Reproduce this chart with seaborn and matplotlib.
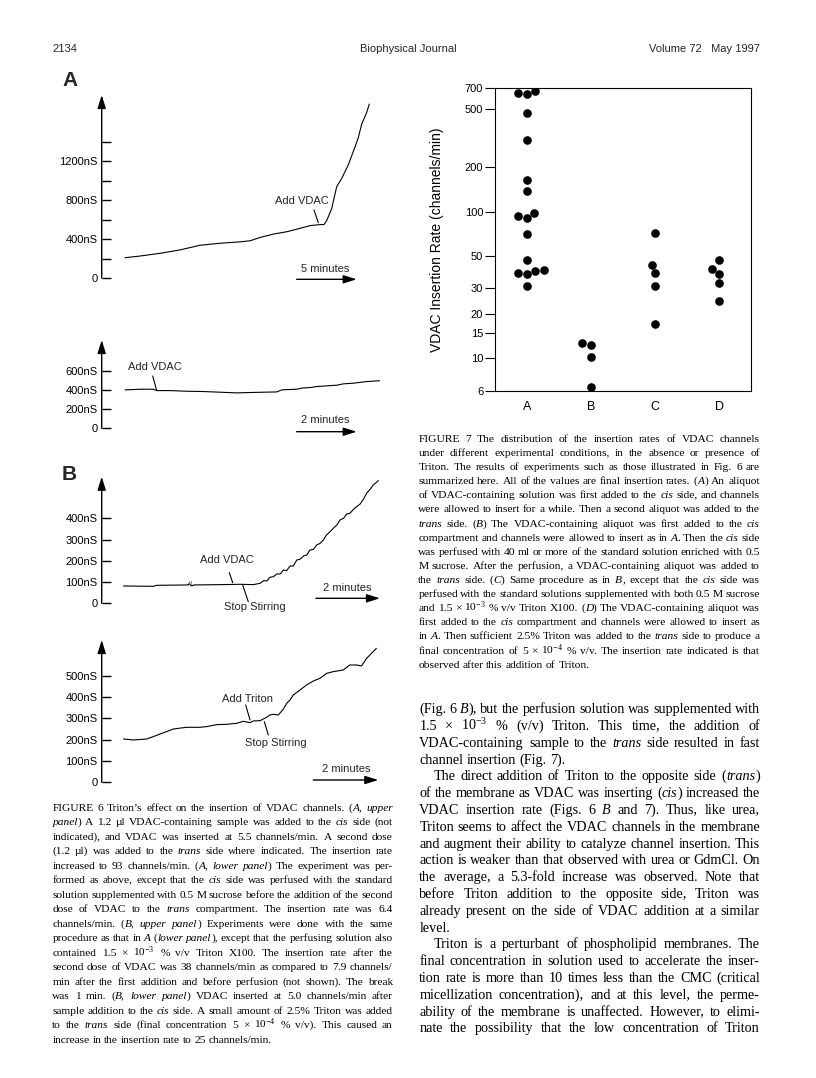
import math
import matplotlib
matplotlib.use('Agg')
import matplotlib.pyplot as plt
import seaborn as sns
import pandas as pd
from matplotlib.ticker import FixedLocator, FixedFormatter, NullLocator
from matplotlib.font_manager import findfont, get_font
from matplotlib.backends.backend_agg import get_hinting_flag

W, H = 816, 1078
SANS = 'Liberation Sans'
SERIF = 'Liberation Serif'

# ---------------- Figure 7 data (channels/min) ----------------
conditions = ['A', 'B', 'C', 'D']
rates_a = [660, 645, 630, 469, 309, 163, 138, 98, 93.5, 90, 70, 47, 40, 39.6, 38.3, 37.7, 31.3]
rates_b = [12.8, 12.3, 10.3, 6.4]
rates_c = [71.3, 43.2, 38, 31.3, 17.1]
rates_d = [47, 40.6, 37.3, 32.5, 24.8]
rate_ticks = [6, 10, 15, 20, 30, 50, 100, 200, 500, 700]

# ---------------- Figure 6 traces (minutes, nS) ----------------
a_upper_min = [0, 1.25, 2.92, 4.58, 6.25, 7.92, 9.58, 10.42, 11.25, 12.36, 13.47, 14.58,
               15.42, 16.25, 16.58, 16.81, 17.22, 17.64, 18.06, 18.61, 19.03, 19.44,
               19.72, 20.14, 20.36]
a_upper_ns = [209, 226, 254, 289, 337, 358, 372, 383, 417, 452, 476, 511,
              539, 550, 550, 591, 713, 939, 1026, 1165, 1304, 1443,
              1583, 1704, 1791]
a_upper_major = [0, 400, 800, 1200]
a_upper_minor = [200, 600, 1000, 1400]

a_lower_min = [0, 0.5, 0.94, 1.06, 1.5, 2.06, 2.61, 3.17, 3.72, 4.06, 4.61, 5.06,
               5.22, 5.39, 5.72, 5.94, 6.17, 6.39, 6.72, 7.06, 7.28, 7.61, 8.06, 8.56]
a_lower_ns = [400, 407, 407, 393, 393, 386, 383, 376, 369, 372, 376, 379,
              400, 403, 407, 421, 424, 435, 442, 449, 463, 470, 487, 497]
a_lower_major = [0, 200, 400, 600]

b_upper_min = [0, 0.94, 1.04, 1.98, 2.08, 2.14, 2.19, 3.02, 3.65, 4.06, 4.27, 4.38,
               4.48, 4.58, 4.69, 4.79, 4.90, 5.00, 5.10, 5.21, 5.31, 5.42, 5.52,
               5.63, 5.73, 5.83, 5.94, 6.04, 6.15, 6.25, 6.35, 6.46, 6.56, 6.67,
               6.77, 6.88, 6.98, 7.08, 7.19, 7.29, 7.40, 7.50, 7.60, 7.71, 7.81, 7.97]
b_upper_ns = [81.6, 80.0, 84.7, 86.3, 91.0, 81.6, 86.3, 87.9, 89.4, 87.9, 94.1, 106.7,
              105.1, 122.4, 125.5, 138.0, 138.0, 156.9, 153.7, 175.7, 175.7, 204.0, 207.1,
              222.8, 227.5, 251.1, 254.2, 274.6, 282.4, 298.1, 321.6, 337.3, 353.0, 368.7,
              392.2, 400.1, 420.5, 423.6, 442.4, 455.0, 467.5, 489.5, 517.8, 536.6, 557.0, 577.4]
b_upper_major = [0, 100, 200, 300, 400]

b_lower_min = [0, 0.31, 0.72, 0.92, 1.13, 1.33, 1.54, 1.95, 2.36, 2.56, 2.87, 3.18,
               3.49, 3.69, 3.90, 4.00, 4.21, 4.41, 4.51, 4.62, 4.77, 4.92, 5.03,
               5.13, 5.23, 5.44, 5.64, 5.85, 6.05, 6.26, 6.46, 6.77, 6.97, 7.18,
               7.33, 7.49, 7.64, 7.79]
b_lower_ns = [203.7, 199.0, 203.7, 214.7, 227.2, 238.2, 250.7, 258.6, 258.6, 261.7, 271.1, 272.7,
              277.4, 286.8, 280.5, 288.3, 289.9, 305.6, 316.5, 319.7, 316.5, 343.2, 371.4,
              387.0, 410.6, 434.1, 457.6, 476.4, 488.9, 512.4, 520.2, 528.1, 551.6, 551.6,
              546.9, 582.9, 606.4, 629.9]
b_lower_major = [0, 100, 200, 300, 400, 500]

# ---------------- text ----------------
fig7_caption = [
    "FIGURE 7  The distribution of the insertion rates of VDAC channels",
    "under different experimental conditions, in the absence or presence of",
    "Triton. The results of experiments such as those illustrated in Fig. 6 are",
    "summarized here. All of the values are final insertion rates. (_A_) An aliquot",
    "of VDAC-containing solution was first added to the _cis_ side, and channels",
    "were allowed to insert for a while. Then a second aliquot was added to the",
    "_trans_ side. (_B_) The VDAC-containing aliquot was first added to the _cis_",
    "compartment and channels were allowed to insert as in _A_. Then the _cis_ side",
    "was perfused with 40 ml or more of the standard solution enriched with 0.5",
    "M sucrose. After the perfusion, a VDAC-containing aliquot was added to",
    "the _trans_ side. (_C_) Same procedure as in _B_, except that the _cis_ side was",
    "perfused with the standard solutions supplemented with both 0.5 M sucrose",
    "and 1.5 \u00d7 10$^{-3}$ % v/v Triton X100. (_D_) The VDAC-containing aliquot was",
    "first added to the _cis_ compartment and channels were allowed to insert as",
    "in _A_. Then sufficient 2.5% Triton was added to the _trans_ side to produce a",
    "final concentration of 5 \u00d7 10$^{-4}$ % v/v. The insertion rate indicated is that",
    "observed after this addition of Triton.",
]

fig6_caption = [
    "FIGURE 6  Triton\u2019s effect on the insertion of VDAC channels. (_A, upper_",
    "_panel_) A 1.2 \u00b5l VDAC-containing sample was added to the _cis_ side (not",
    "indicated), and VDAC was inserted at 5.5 channels/min. A second dose",
    "(1.2 \u00b5l) was added to the _trans_ side where indicated. The insertion rate",
    "increased to 93 channels/min. (_A, lower panel_) The experiment was per-",
    "formed as above, except that the _cis_ side was perfused with the standard",
    "solution supplemented with 0.5 M sucrose before the addition of the second",
    "dose of VDAC to the _trans_ compartment. The insertion rate was 6.4",
    "channels/min. (_B, upper panel_) Experiments were done with the same",
    "procedure as that in _A_ (_lower panel_), except that the perfusing solution also",
    "contained 1.5 \u00d7 10$^{-3}$ % v/v Triton X100. The insertion rate after the",
    "second dose of VDAC was 38 channels/min as compared to 7.9 channels/",
    "min after the first addition and before perfusion (not shown). The break",
    "was 1 min. (_B, lower panel_) VDAC inserted at 5.0 channels/min after",
    "sample addition to the _cis_ side. A small amount of 2.5% Triton was added",
    "to the _trans_ side (final concentration 5 \u00d7 10$^{-4}$ % v/v). This caused an",
    "increase in the insertion rate to 25 channels/min.",
]

body_text = [
    "(Fig. 6 _B_), but the perfusion solution was supplemented with",
    "1.5 \u00d7 10$^{-3}$ % (v/v) Triton. This time, the addition of",
    "VDAC-containing sample to the _trans_ side resulted in fast",
    "channel insertion (Fig. 7).",
    "The direct addition of Triton to the opposite side (_trans_)",
    "of the membrane as VDAC was inserting (_cis_) increased the",
    "VDAC insertion rate (Figs. 6 _B_ and 7). Thus, like urea,",
    "Triton seems to affect the VDAC channels in the membrane",
    "and augment their ability to catalyze channel insertion. This",
    "action is weaker than that observed with urea or GdmCl. On",
    "the average, a 5.3-fold increase was observed. Note that",
    "before Triton addition to the opposite side, Triton was",
    "already present on the side of VDAC addition at a similar",
    "level.",
    "Triton is a perturbant of phospholipid membranes. The",
    "final concentration in solution used to accelerate the inser-",
    "tion rate is more than 10 times less than the CMC (critical",
    "micellization concentration), and at this level, the perme-",
    "ability of the membrane is unaffected. However, to elimi-",
    "nate the possibility that the low concentration of Triton",
]

sns.set_theme(style='white')
plt.rcParams['font.family'] = [SANS, 'DejaVu Sans']
plt.rcParams['mathtext.fontset'] = 'custom'
plt.rcParams['mathtext.rm'] = SERIF
plt.rcParams['mathtext.it'] = SERIF + ':italic'

fig = plt.figure(figsize=(W / 100, H / 100), dpi=100)
fig.patch.set_facecolor('white')


def box(x0, y0, x1, y1):
    """page pixels (top-left origin) -> add_axes rect"""
    return [x0 / W, 1 - y1 / H, (x1 - x0) / W, (y1 - y0) / H]


page = fig.add_axes([0, 0, 1, 1], zorder=5)
page.set_xlim(0, W)
page.set_ylim(H, 0)
page.axis('off')

ARROW = dict(arrowstyle='-|>,head_length=0.8,head_width=0.25', color='black',
             lw=1.0, shrinkA=0, shrinkB=0, mutation_scale=10)


def arrow(x0, y0, x1, y1):
    page.annotate('', xy=(x1, y1), xytext=(x0, y0), arrowprops=ARROW)


def marker_line(x0, y0, x1, y1):
    page.plot([x0, x1], [y0, y1], color='black', lw=0.8)


def label(x, y, s, size=8):
    page.text(x, y, s, ha='center', va='center', fontsize=size, family=SANS)


# ---------------- header ----------------
page.text(52, 49, '2134', ha='left', va='center', fontsize=8)
page.text(408, 49, 'Biophysical Journal', ha='center', va='center', fontsize=8)
page.text(760, 49, 'Volume 72   May 1997', ha='right', va='center', fontsize=8)

# ---------------- Figure 6 panels ----------------
AXIS_X = 101.7


def trace_panel(t, g, top_px, zero_px, xlim, ytop, major, minor=()):
    ax = fig.add_axes(box(AXIS_X, top_px, 380, zero_px))
    ax.patch.set_alpha(0)
    sns.lineplot(x=t, y=g, ax=ax, color='black', linewidth=0.8, estimator=None)
    ax.set_xlim(*xlim)
    ax.set_ylim(0, ytop)
    for s in ax.spines.values():
        s.set_visible(False)
    ax.set_xticks([])
    ax.set_xlabel('')
    ax.set_ylabel('')
    ax.yaxis.set_major_locator(FixedLocator(major))
    ax.yaxis.set_major_formatter(FixedFormatter(['0'] + [f'{v}nS' for v in major[1:]]))
    ax.yaxis.set_minor_locator(FixedLocator(list(minor)) if minor else NullLocator())
    ax.tick_params(axis='y', which='both', left=True, direction='in', length=6.5,
                   width=1.0, color='black', labelcolor='black', labelsize=8, pad=3)
    ax.grid(False)
    arrow(AXIS_X, zero_px, AXIS_X, top_px)
    return ax


trace_panel(a_upper_min, a_upper_ns, 95, 278, (-1.94, 21.25), 1884, a_upper_major, a_upper_minor)
trace_panel(a_lower_min, a_lower_ns, 340, 428.3, (-0.78, 8.5), 920, a_lower_major)
trace_panel(b_upper_min, b_upper_ns, 476.7, 603.3, (-0.68, 8.02), 596, b_upper_major)
trace_panel(b_lower_min, b_lower_ns, 640, 782.3, (-0.667, 7.9), 669, b_lower_major)

page.text(62, 80, 'A', ha='left', va='center', fontsize=15, fontweight='bold')
page.text(62, 475, 'B', ha='left', va='center', fontsize=15, fontweight='bold')

# time bars
arrow(296.7, 279.3, 356.7, 279.3)
label(325, 269, '5 minutes')
arrow(296.7, 431.7, 356.7, 431.7)
label(325, 420, '2 minutes')
arrow(316, 598.3, 380, 598.3)
label(347.5, 587.7, '2 minutes')
arrow(313.3, 780, 378.3, 780)
label(346.7, 769, '2 minutes')

# event markers
label(301.5, 201, 'Add VDAC')
marker_line(314, 210, 318.3, 222.7)
label(154.5, 367, 'Add VDAC')
marker_line(152.7, 376, 156.7, 390.7)
label(226.5, 560, 'Add VDAC')
marker_line(229.3, 572.7, 232.7, 582.7)
label(255, 607, 'Stop Stirring')
marker_line(242.7, 585, 248.3, 601.7)
page.text(190.5, 585, '//', ha='center', va='center', fontsize=5)
label(247, 699.3, 'Add Triton')
marker_line(245.7, 705, 250, 720)
label(276, 742.7, 'Stop Stirring')
marker_line(264.3, 721.7, 268.3, 735)

# ---------------- Figure 7 ----------------
df = pd.DataFrame({
    'condition': (['A'] * len(rates_a) + ['B'] * len(rates_b)
                  + ['C'] * len(rates_c) + ['D'] * len(rates_d)),
    'rate': rates_a + rates_b + rates_c + rates_d,
})
ax7 = fig.add_axes(box(495, 87.5, 751, 391))
sns.swarmplot(data=df, x='condition', y='rate', order=conditions, ax=ax7,
              color='black', size=6.2, linewidth=0, log_scale=True, warn_thresh=1)
ax7.set_xlim(-0.5, 3.5)
ax7.set_ylim(6, 700)
ax7.yaxis.set_major_locator(FixedLocator(rate_ticks))
ax7.yaxis.set_major_formatter(FixedFormatter([str(v) for v in rate_ticks]))
ax7.yaxis.set_minor_locator(NullLocator())
ax7.tick_params(axis='y', left=True, direction='out', length=7, width=0.8,
                color='black', labelsize=8, labelcolor='black', pad=1.5)
ax7.tick_params(axis='x', bottom=False, length=0, labelsize=9, labelcolor='black', pad=7)
for s in ax7.spines.values():
    s.set_visible(True)
    s.set_color('black')
    s.set_linewidth(0.8)
ax7.set_xlabel('')
ax7.set_ylabel('VDAC Insertion Rate (channels/min)', fontsize=10, color='black')
ax7.yaxis.set_label_coords(-0.20, 0.5)
ax7.grid(False)

# ---------------- justified text blocks ----------------
renderer = fig.canvas.get_renderer()


def snap_baseline(t, y):
    # Agg places each string by its own glyph box; compensate so every word
    # of a line lands on the same pixel baseline.
    s = t.get_text()
    if '$' in s:
        return y
    prop = t.get_fontproperties()
    font = get_font(findfont(prop))
    font.clear()
    font.set_size(prop.get_size_in_points(), fig.dpi)
    font.set_text(s, 0, flags=get_hinting_flag())
    _, h26 = font.get_width_height()
    d26 = font.get_descent()
    a, b = (h26 - d26) / 64, d26 / 64
    row = round(y + b) - math.floor(a + b) + math.floor(a)
    return y - (row - round(y))


def typeset(lines, left, right, first, step, ragged, indent_rows=(), indent=14,
            max_size=10.0):
    rows = []
    italic = False
    for line in lines:
        row = []
        for word in line.split():
            segs = []
            for k, piece in enumerate(word.split('_')):
                if k:
                    italic = not italic
                if piece:
                    segs.append(page.text(0, 0, piece, family=SERIF, va='baseline',
                                          ha='left', color='black',
                                          style='italic' if italic else 'normal'))
            row.append(segs)
        rows.append(row)

    def measure(size):
        for row in rows:
            for segs in row:
                for t in segs:
                    t.set_fontsize(size)
        return [[[t.get_window_extent(renderer).width for t in segs] for segs in row]
                for row in rows]

    base = 10.0
    ws = measure(base)
    sp = 0.2 * base * 100 / 72
    need = 0
    for i, row in enumerate(rows):
        avail = right - left - (indent if i in indent_rows else 0)
        natural = sum(sum(w) for w in ws[i]) + sp * (len(row) - 1)
        need = max(need, natural / avail)
    size = min(max_size, base / need * 0.995)
    ws = measure(size)
    sp = 0.25 * size * 100 / 72
    for i, row in enumerate(rows):
        x0 = left + (indent if i in indent_rows else 0)
        total = sum(sum(w) for w in ws[i])
        if i in ragged or len(row) < 2:
            gap = sp
        else:
            gap = (right - x0 - total) / (len(row) - 1)
        x = x0
        y = round(first + i * step) + 0.1
        for segs, w in zip(row, ws[i]):
            for t, wi in zip(segs, w):
                t.set_position((x, snap_baseline(t, y)))
                x += wi
            x += gap


typeset(fig7_caption, 418.3, 760, 441.8, 14.12, ragged={16}, max_size=8.6)
typeset(fig6_caption, 52.3, 392.7, 810.8, 14.5, ragged={16}, max_size=8.6)
typeset(body_text, 419.3, 760, 713.3, 16.8, ragged={3, 13}, indent_rows={4, 14},
        max_size=10.2)

fig.savefig('out.png', dpi=100, facecolor='white')
